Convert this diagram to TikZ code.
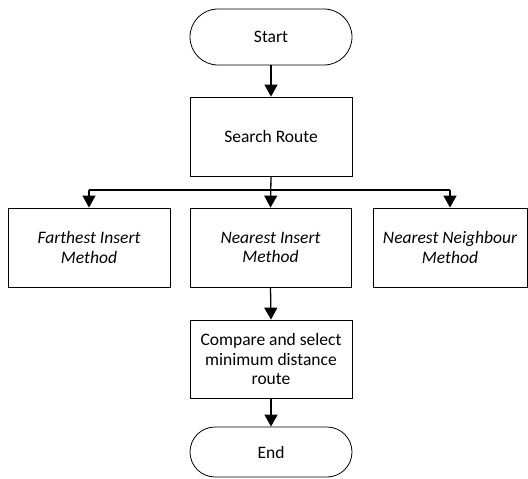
\documentclass[tikz,border=0pt]{standalone}
\usepackage{fontspec}
\setmainfont{Carlito}
\usetikzlibrary{arrows.meta}
\begin{document}
\begin{tikzpicture}[x=1pt,y=-1pt,
  every node/.style={font=\fontsize{17.5}{19.5}\selectfont, align=center, inner sep=0pt},
  proc/.style={draw, line width=0.8pt, minimum width=162pt, minimum height=79pt},
  term/.style={draw, line width=0.8pt, minimum width=162pt, rounded corners=#1},
  conn/.style={line width=1.3pt, -{Triangle[length=12pt,width=13pt]}},
  plain/.style={line width=1.3pt}]
\useasboundingbox (0,0) rectangle (528,479);
\node[term=28pt, minimum height=56pt] (start) at (271,37) {Start};
\node[proc] (search) at (271,136.5) {Search Route};
\node[proc, font=\fontsize{17.5}{19.5}\selectfont\itshape] (far) at (89,247.5) {Farthest Insert\\Method};
\node[proc, minimum width=161pt, font=\fontsize{17.5}{19.5}\selectfont\itshape] (near) at (270.5,247.5) {Nearest Insert\\Method};
\node[proc, minimum width=154pt, font=\fontsize{17.5}{19.5}\selectfont\itshape] (nn) at (450,247.5) {Nearest Neighbour\\Method};
\node[proc, minimum height=78pt] (cmp) at (271,359) {Compare and select\\minimum distance\\route};
\node[term=25pt, minimum height=50pt] (end) at (271,452) {End};
\coordinate (jl) at (89,190);
\coordinate (jr) at (450,190);
\draw[conn] (start) -- (search);
\draw[conn] (search.south) -- (near.north);
\draw[plain] (jl) -- (jr);
\draw[conn] (jl) -- (far.north);
\draw[conn] (jr) -- (nn.north);
\draw[conn] (near.south) -- (cmp.north);
\draw[conn] (cmp) -- (end);
\end{tikzpicture}
\end{document}
